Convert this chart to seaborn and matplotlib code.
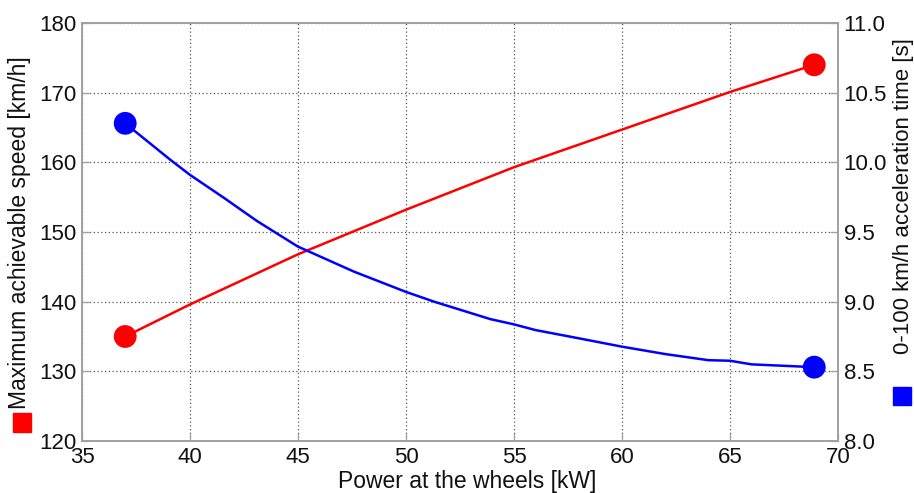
import matplotlib
matplotlib.use("Agg")
import matplotlib.pyplot as plt
from matplotlib.patches import Rectangle
import seaborn as sns
import pandas as pd

# ---- data ----
speed_power = [37, 40, 45, 50, 55, 60, 65, 68.9]
speed_kmh = [135.0, 139.6, 146.8, 153.2, 159.3, 164.7, 170.1, 174.0]

accel_power = [37, 39.1, 40, 41.6, 43.1, 45, 47.6, 50, 51.3, 53.9, 55, 56, 58, 60,
               62, 64, 65, 66, 68.9]
accel_time = [10.28, 10.017, 9.91, 9.742, 9.579, 9.395, 9.215, 9.07, 9.00, 8.875,
              8.837, 8.796, 8.737, 8.677, 8.624, 8.58, 8.576, 8.55, 8.53]

x_ticks = [35, 40, 45, 50, 55, 60, 65, 70]
left_ticks = [120, 130, 140, 150, 160, 170, 180]
right_ticks = [8.0, 8.5, 9.0, 9.5, 10.0, 10.5, 11.0]
right_tick_labels = ["8.0", "8.5", "9.0", "9.5", "10.0", "10.5", "11.0"]

x_label = "Power at the wheels [kW]"
left_label = "Maximum achievable speed [km/h]"
right_label = "0-100 km/h acceleration time [s]"

RED = "#ff0000"
BLUE = "#0000ff"
FS_TICK = 16
FS_LAB = 16.5

sns.set_theme(style="white")
plt.rcParams["font.family"] = ["Liberation Sans", "DejaVu Sans"]

df_s = pd.DataFrame({"p": speed_power, "v": speed_kmh})
df_a = pd.DataFrame({"p": accel_power, "t": accel_time})

fig = plt.figure(figsize=(9.14, 4.93), dpi=100)
ax = fig.add_axes([82 / 914, 1 - 441 / 493, 756 / 914, 418 / 493])
ax2 = ax.twinx()

sns.lineplot(data=df_s, x="p", y="v", ax=ax, color=RED, linewidth=1.8, sort=False)
sns.scatterplot(data=df_s.iloc[[0, -1]], x="p", y="v", ax=ax, color=RED, s=270,
                edgecolor="none", zorder=5)
sns.lineplot(data=df_a, x="p", y="t", ax=ax2, color=BLUE, linewidth=1.8, sort=False)
sns.scatterplot(data=df_a.iloc[[0, -1]], x="p", y="t", ax=ax2, color=BLUE, s=270,
                edgecolor="none", zorder=5)

ax.set_xlim(35, 70)
ax.set_ylim(120, 180)
ax2.set_ylim(8.0, 11.0)
ax.set_xticks(x_ticks)
ax.set_yticks(left_ticks)
ax2.set_yticks(right_ticks)
ax2.set_yticklabels(right_tick_labels)

ax.grid(True, linestyle=(0, (1, 2)), color="#555555", linewidth=0.9)
ax2.grid(False)

for a in (ax, ax2):
    for s in a.spines.values():
        s.set_color("#a0a0a0")
        s.set_linewidth(1.2)
    a.tick_params(direction="in", length=6, width=0.9, color="#a0a0a0",
                  labelsize=FS_TICK, labelcolor="#111111", pad=4)
ax.tick_params(axis="both", which="both", left=True, bottom=True, top=False)
ax2.tick_params(axis="y", right=True)

ax.set_xlabel(x_label, fontsize=FS_LAB, color="#111111")
ax.xaxis.label.set_verticalalignment("baseline")
ax.set_ylabel(left_label, fontsize=FS_LAB, color="#111111")
ax2.set_ylabel(right_label, fontsize=16, color="#111111")
ax.xaxis.set_label_coords((467 - 82) / 756, (441 - 488) / 418)
ax.yaxis.set_label_coords((31 - 82) / 756, (441 - 233) / 418)
ax2.yaxis.set_label_coords((893 - 82) / 756, (441 - 196) / 418)

# colour keys next to the axis labels
fig.patches.append(Rectangle((13 / 914, 1 - 432 / 493), 18 / 914, 19 / 493,
                             transform=fig.transFigure, color=RED, zorder=10))
fig.patches.append(Rectangle((893 / 914, 1 - 405 / 493), 18 / 914, 18 / 493,
                             transform=fig.transFigure, color=BLUE, zorder=10))

fig.savefig("out.png", dpi=100)
